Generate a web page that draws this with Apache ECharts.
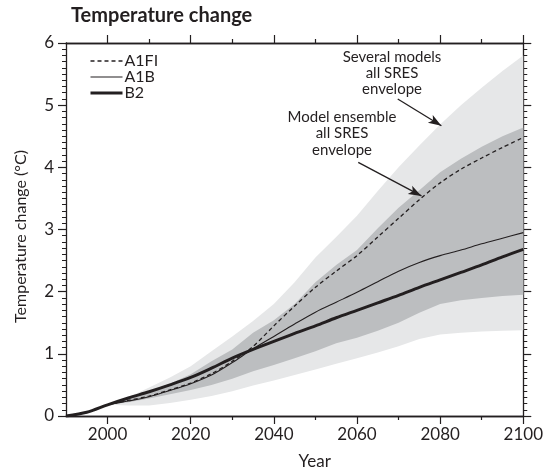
<!DOCTYPE html>
<html>
<head>
<meta charset="utf-8">
<script src="https://cdn.jsdelivr.net/npm/echarts@6/dist/echarts.min.js"></script>
<style>
  html, body { margin: 0; padding: 0; background: #ffffff; }
  #chart { width: 546px; height: 475px; }
</style>
</head>
<body>
<div id="chart"></div>
<script>
// ---- Data ----
const lineYears = [1990, 1995, 2000, 2005, 2010, 2015, 2020, 2025, 2030, 2035, 2040, 2045, 2050, 2055, 2060, 2065, 2070, 2075, 2080, 2085, 2090, 2095, 2100];
const a1fi = [0, 0.06, 0.18, 0.25, 0.32, 0.42, 0.53, 0.68, 0.88, 1.12, 1.45, 1.77, 2.07, 2.33, 2.58, 2.88, 3.18, 3.48, 3.75, 3.97, 4.15, 4.32, 4.48];
const a1b  = [0, 0.06, 0.18, 0.24, 0.31, 0.41, 0.52, 0.66, 0.86, 1.08, 1.28, 1.48, 1.67, 1.83, 1.99, 2.16, 2.33, 2.47, 2.58, 2.67, 2.77, 2.86, 2.95];
const b2   = [0, 0.06, 0.18, 0.29, 0.39, 0.50, 0.62, 0.77, 0.93, 1.07, 1.20, 1.33, 1.45, 1.58, 1.70, 1.82, 1.94, 2.07, 2.19, 2.31, 2.43, 2.56, 2.68];

const envYears = [2000, 2005, 2010, 2015, 2020, 2025, 2030, 2035, 2040, 2045, 2050, 2055, 2060, 2065, 2070, 2075, 2080, 2085, 2090, 2095, 2100];
// "Several models, all SRES envelope" (light)
const severalUpper = [0.18, 0.30, 0.46, 0.62, 0.80, 1.04, 1.28, 1.53, 1.80, 2.15, 2.55, 2.88, 3.22, 3.62, 4.00, 4.35, 4.69, 5.00, 5.28, 5.55, 5.80];
const severalLower = [0.18, 0.17, 0.17, 0.21, 0.26, 0.32, 0.40, 0.49, 0.57, 0.66, 0.75, 0.84, 0.93, 1.02, 1.12, 1.24, 1.31, 1.34, 1.36, 1.37, 1.38];
// "Model ensemble, all SRES envelope" (dark)
const ensembleUpper = [0.18, 0.28, 0.40, 0.52, 0.67, 0.88, 1.07, 1.34, 1.54, 1.80, 2.15, 2.43, 2.67, 3.02, 3.35, 3.63, 3.92, 4.14, 4.33, 4.50, 4.64];
const ensembleLower = [0.18, 0.22, 0.28, 0.35, 0.42, 0.50, 0.60, 0.72, 0.82, 0.93, 1.04, 1.17, 1.26, 1.37, 1.50, 1.66, 1.80, 1.86, 1.90, 1.93, 1.95];

const yTicks = [0, 1, 2, 3, 4, 5, 6];
const xLabelYears = [2000, 2020, 2040, 2060, 2080, 2100];
const xMinorYears = [2010, 2030, 2050, 2070, 2090];

const INK = '#231f20';
const LIGHT = '#e6e7e8';
const DARK = '#bcbec0';
const FONT = 'Lato, "Open Sans", sans-serif';

const envelopes = [
  { upper: severalUpper, lower: severalLower, fill: LIGHT },
  { upper: ensembleUpper, lower: ensembleLower, fill: DARK }
];

function pairs(xs, ys) { return xs.map((x, i) => [x, ys[i]]); }

const chart = echarts.init(document.getElementById('chart'), null, { renderer: 'canvas' });

const xBase = {
  type: 'value', min: 1990, max: 2100,
  splitLine: { show: false },
  axisLine: { show: true, onZero: false, lineStyle: { color: INK, width: 1.3 } }
};

const annot = (text, x, y) => ({
  type: 'text', x: x, y: y, z: 10,
  style: { text: text, fontFamily: FONT, fontSize: 15, fill: INK, align: 'center', verticalAlign: 'middle' }
});

const option = {
  animation: false,
  backgroundColor: '#ffffff',
  textStyle: { fontFamily: FONT, color: INK },
  title: {
    text: 'Temperature change',
    left: 66, top: 1,
    textStyle: { fontFamily: FONT, fontWeight: 'bold', fontSize: 20, color: INK }
  },
  legend: {
    orient: 'vertical',
    left: 84, top: 48,
    itemWidth: 32, itemHeight: 12, itemGap: 0,
    itemStyle: { opacity: 0 },
    data: [
      { name: 'A1FI', lineStyle: { color: INK, opacity: 1, width: 1.3, type: [4, 3] } },
      { name: 'A1B', lineStyle: { color: INK, opacity: 1, width: 1.2, type: 'solid' } },
      { name: 'B2', lineStyle: { color: INK, opacity: 1, width: 3, type: 'solid' } }
    ],
    textStyle: { fontFamily: FONT, fontSize: 16, lineHeight: 16, color: INK, padding: [0, 0, 0, -3] }
  },
  grid: { left: 66, right: 19, top: 43, bottom: 56, containLabel: false },
  xAxis: [
    Object.assign({}, xBase, {
      position: 'bottom',
      name: 'Year', nameLocation: 'middle', nameGap: 37,
      nameTextStyle: { fontFamily: FONT, fontSize: 17, color: INK, padding: [0, 0, 0, 40] },
      axisTick: { show: true, length: 8, customValues: xLabelYears, lineStyle: { color: INK, width: 1.2 } },
      axisLabel: { show: true, customValues: xLabelYears, formatter: v => String(v), fontFamily: FONT, fontSize: 17, color: INK, margin: 10 }
    }),
    Object.assign({}, xBase, {
      position: 'bottom',
      axisTick: { show: true, length: 4, customValues: xMinorYears, lineStyle: { color: INK, width: 1.2 } },
      axisLabel: { show: false }
    }),
    Object.assign({}, xBase, {
      position: 'top',
      axisTick: { show: true, length: 8, customValues: xLabelYears, lineStyle: { color: INK, width: 1.2 } },
      axisLabel: { show: false }
    }),
    Object.assign({}, xBase, {
      position: 'top',
      axisTick: { show: true, length: 4, customValues: xMinorYears, lineStyle: { color: INK, width: 1.2 } },
      axisLabel: { show: false }
    })
  ],
  yAxis: [
    {
      type: 'value', min: yTicks[0], max: yTicks[yTicks.length - 1], interval: 1,
      position: 'left',
      name: 'Temperature change (°C)', nameLocation: 'middle', nameGap: 37,
      nameTextStyle: { fontFamily: FONT, fontSize: 16, color: INK, padding: [0, 0, 0, -14] },
      splitLine: { show: false },
      axisLine: { show: true, onZero: false, lineStyle: { color: INK, width: 1.3 } },
      axisTick: { show: true, length: 8, lineStyle: { color: INK, width: 1.2 } },
      minorTick: { show: true, splitNumber: 10, length: 4, lineStyle: { color: INK, width: 1 } },
      axisLabel: { fontFamily: FONT, fontSize: 17, color: INK, margin: 12 }
    },
    {
      type: 'value', min: yTicks[0], max: yTicks[yTicks.length - 1], interval: 1,
      position: 'right',
      splitLine: { show: false },
      axisLine: { show: true, onZero: false, lineStyle: { color: INK, width: 1.3 } },
      axisTick: { show: true, length: 8, lineStyle: { color: INK, width: 1.2 } },
      minorTick: { show: true, splitNumber: 10, length: 4, lineStyle: { color: INK, width: 1 } },
      axisLabel: { show: false }
    }
  ],
  graphic: [
    annot('Several models', 392, 57),
    annot('all SRES', 392, 73),
    annot('envelope', 392, 89),
    annot('Model ensemble', 342, 117),
    annot('all SRES', 342, 133),
    annot('envelope', 342, 150)
  ],
  series: [
    {
      type: 'custom',
      name: 'envelopes',
      silent: true,
      xAxisIndex: 0, yAxisIndex: 0,
      data: envelopes.map((e, i) => [envYears[0], e.lower[0], i]),
      encode: { x: 0, y: 1 },
      z: 1,
      renderItem: function (params, api) {
        const env = envelopes[params.dataIndex];
        const pts = [];
        envYears.forEach((y, i) => pts.push(api.coord([y, env.upper[i]])));
        for (let i = envYears.length - 1; i >= 0; i--) pts.push(api.coord([envYears[i], env.lower[i]]));
        return { type: 'polygon', shape: { points: pts, smooth: 0 }, style: { fill: env.fill, stroke: null } };
      }
    },
    {
      type: 'line', name: 'A1FI', data: pairs(lineYears, a1fi),
      xAxisIndex: 0, yAxisIndex: 0,
      smooth: 0.3, symbol: 'none', z: 3,
      lineStyle: { color: INK, width: 1.3, type: [4, 3] },
      itemStyle: { color: INK },
      markLine: {
        silent: true,
        symbol: ['none', 'arrow'], symbolSize: [7, 13],
        label: { show: false },
        lineStyle: { color: INK, width: 1.3, type: 'solid' },
        data: [
          [{ coord: [2069.8, 5.10] }, { coord: [2080.3, 4.67] }],
          [{ coord: [2060.3, 4.08] }, { coord: [2075.5, 3.54] }]
        ]
      }
    },
    {
      type: 'line', name: 'A1B', data: pairs(lineYears, a1b),
      xAxisIndex: 0, yAxisIndex: 0,
      smooth: 0.3, symbol: 'none', z: 3,
      lineStyle: { color: INK, width: 1.1 },
      itemStyle: { color: INK }
    },
    {
      type: 'line', name: 'B2', data: pairs(lineYears, b2),
      xAxisIndex: 0, yAxisIndex: 0,
      smooth: 0.3, symbol: 'none', z: 3,
      lineStyle: { color: INK, width: 3 },
      itemStyle: { color: INK }
    }
  ]
};

chart.setOption(option);
</script>
</body>
</html>
